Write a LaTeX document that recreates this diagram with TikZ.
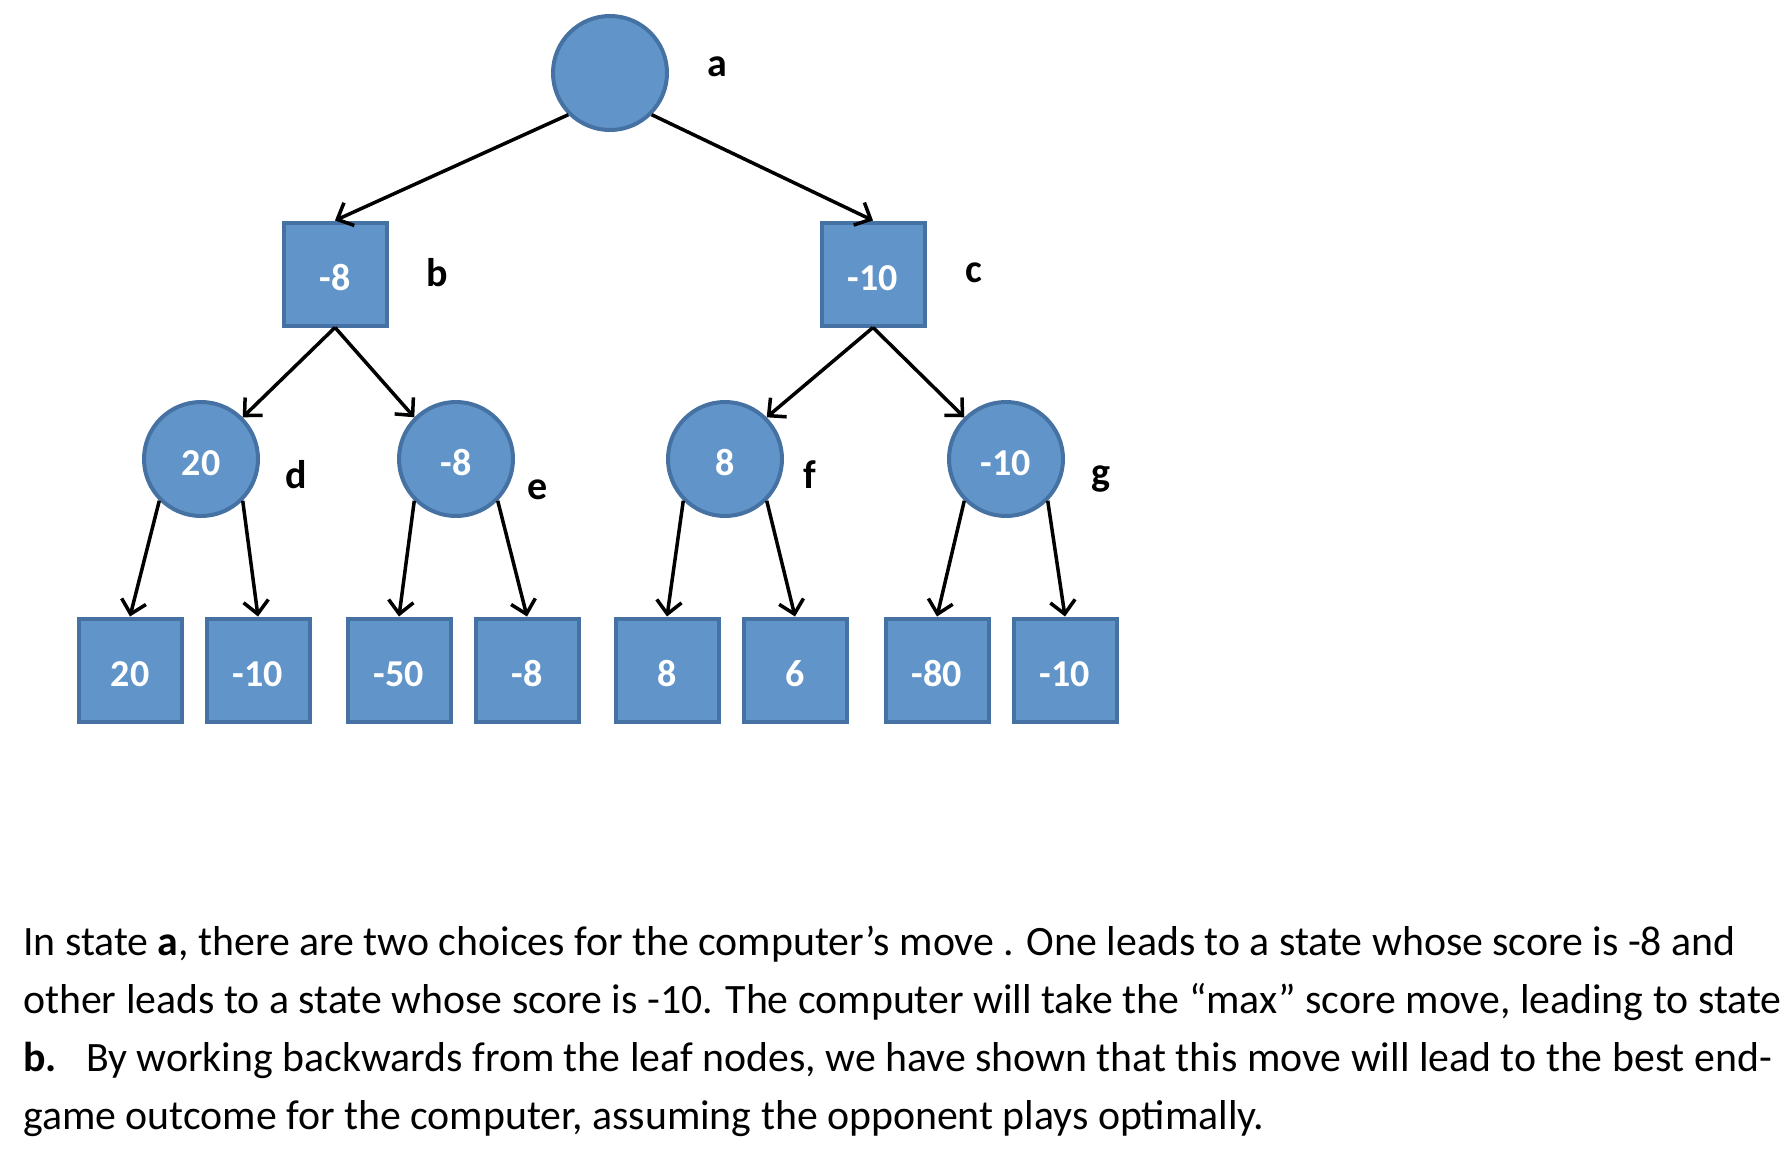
\documentclass[tikz,border=0pt]{standalone}
\usepackage{fontspec}
\setmainfont{Carlito}
\usetikzlibrary{arrows.meta}
\definecolor{nodefill}{RGB}{97,149,201}
\definecolor{nodeline}{RGB}{69,114,162}
\begin{document}
\begin{tikzpicture}[x=1pt,y=-1pt,
  shp/.style={draw=nodeline,fill=nodefill,line width=4pt,inner sep=0pt,text=white,font=\fontsize{38}{44}\selectfont\bfseries,text height=33pt,text depth=0pt},
  circ/.style={shp,circle,minimum size=114pt},
  sq/.style={shp,rectangle,minimum size=103pt},
  lbl/.style={inner sep=0pt,font=\fontsize{40}{48}\selectfont\bfseries},
  edge/.style={line width=3.5pt,-{Straight Barb[length=13pt,width=25pt]}},
  body/.style={anchor=base west,inner sep=0pt,font=\fontsize{41.8}{58}\selectfont}]
\fill[white] (0,0) rectangle (1791,1156);
\useasboundingbox (0,0) rectangle (1791,1156);
% level 0
\node[circ] (a) at (610,73) {};
\node[lbl] (la) at (717,67) {a};
% level 1
\node[sq] (b) at (335,274) {-8};
\node[lbl] (lb) at (437,273) {b};
\node[sq] (c) at (873,274) {-10};
\node[lbl] (lc) at (974,273) {c};
% level 2
\node[circ] (d) at (201,459) {20};
\node[lbl] (ld) at (296,475) {d};
\node[circ] (e) at (456,459) {-8};
\node[lbl] (le) at (538,490) {e};
\node[circ] (f) at (725,459) {8};
\node[lbl] (lf) at (810,475) {f};
\node[circ] (g) at (1006,459) {-10};
\node[lbl] (lg) at (1101,479) {g};
% leaves
\node[sq] (l1) at (130,670) {20};
\node[sq] (l2) at (258,670) {-10};
\node[sq] (l3) at (399,670) {-50};
\node[sq] (l4) at (527,670) {-8};
\node[sq] (l5) at (667,670) {8};
\node[sq] (l6) at (795,670) {6};
\node[sq] (l7) at (937,670) {-80};
\node[sq] (l8) at (1065,670) {-10};
% edges
\draw[edge] (a.south west) -- (b.north);
\draw[edge] (a.south east) -- (c.north);
\draw[edge] (b.south) -- (d.north east);
\draw[edge] (b.south) -- (e.north west);
\draw[edge] (c.south) -- (f.north east);
\draw[edge] (c.south) -- (g.north west);
\draw[edge] (d.south west) -- (l1.north);
\draw[edge] (d.south east) -- (l2.north);
\draw[edge] (e.south west) -- (l3.north);
\draw[edge] (e.south east) -- (l4.north);
\draw[edge] (f.south west) -- (l5.north);
\draw[edge] (f.south east) -- (l6.north);
\draw[edge] (g.south west) -- (l7.north);
\draw[edge] (g.south east) -- (l8.north);
% text
\node[body] (t1) at (23,955) {In state \textbf{a}, there are two choices for the computer’s move . One leads to a state whose score is -8 and};
\node[body] (t2) at (23,1013) {other leads to a state whose score is -10. The computer will take the “max” score move, leading to state};
\node[body] (t3) at (23,1071) {\textbf{b.}\hspace{0.7em}By working backwards from the leaf nodes, we have shown that this move will lead to the best end-};
\node[body] (t4) at (23,1129) {game outcome for the computer, assuming the opponent plays optimally.};
\end{tikzpicture}
\end{document}
